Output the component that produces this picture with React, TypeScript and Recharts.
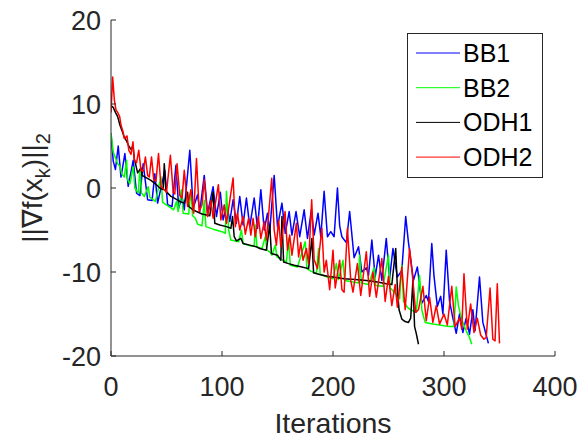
import React from 'react'
import { LineChart, Line, XAxis, YAxis, Legend } from 'recharts'

type Pt = [number, number]

// [iteration, ||grad f(x_k)||_2]
const bb1: Pt[] = [
  [0, 6.5], [2, 3.2], [4, 2.2], [6.5, 5.0], [9, 1.3], [12.5, 4.1], [15.5, 0.2], [20, 3.3], [23, -0.6], [26, -0.9],
  [29, 2.9], [33, -1.4], [37, -1.5], [39.5, 1.7], [42, -1.8], [48.5, 2.1], [51, -2.0], [55, -2.2], [58.5, 2.7], [61, -2.4],
  [64, -1.0], [66, -2.6], [71, 4.5], [74, -2.4], [78, -0.8], [80, -2.8], [84, 1.5], [87, -3.0], [92, 0.15], [95, -3.4],
  [98.5, -0.5], [101, -3.8], [104.5, -2.0], [107, -4.0], [110, -1.4], [113, -4.2], [116, -1.0], [119, -4.4], [122, -1.2], [125, -4.6],
  [129, -1.2], [132, -4.8], [135, -0.2], [138, -5.0], [141, -3.0], [143, -5.2], [147, 1.5], [150, -4.6], [154, -1.8], [157, -5.4],
  [160.5, -2.8], [163, -5.6], [166.7, -2.8], [170, -5.8], [174, -2.6], [177, -6.0], [180.5, -2.6], [183, -5.6], [186.5, -3.0], [189, -5.8],
  [192, -0.4], [195, -5.8], [198, -5.2], [201, -5.8], [204, 0.0], [206, -4.5], [208, -5.8], [212, -6.5], [215, -2.8], [219, -8.3],
  [223, -7.0], [226, -10.0], [230, -9.5], [232, -10.4], [235, -6.2], [238, -10.6], [241, -8.0], [244, -11.0], [248, -6.0], [251, -10.8],
  [254, -7.2], [258, -10.6], [262, -9.8], [265.5, -3.4], [268, -6.5], [270, -8.5], [272.5, -11.0], [276, -9.4], [280, -13.7], [284, -12.8],
  [286, -13.5], [289, -6.6], [291, -10.5], [294, -14.1], [297, -12.9], [299, -15.0], [302, -7.4], [305, -13.5], [308, -15.5], [311, -17.3],
  [314, -15.0], [317, -17.2], [320, -15.5], [323, -17.4], [326, -14.5], [328, -17.0], [332, -10.6], [335, -16.0], [337, -17.0], [340, -18.5],
]

const bb2: Pt[] = [
  [0, 6.5], [2, 4.3], [4, 3.6], [6, 2.9], [8, 2.6], [10, 1.6], [12, 1.3], [14, 3.3], [15, 1.0], [17, 0.5],
  [20, 2.5], [21.5, 0.0], [24.5, -0.6], [26, 2.1], [27.5, -0.6], [30, -1.0], [33.5, 0.15], [35, -1.1], [40, -1.6], [45, 1.3],
  [46.5, -1.7], [52, -2.2], [56.5, -2.6], [59, -1.6], [60.5, -2.8], [63.5, -0.2], [65, -3.0], [70, -3.1], [72, -0.2], [73.5, -3.3],
  [76, -3.6], [78, -4.3], [82, -4.5], [84, -1.5], [85.5, -4.6], [92, -4.9], [100, -5.2], [103, -5.4], [104, -0.4], [106, -5.0],
  [108, -6.2], [115, -6.4], [117.5, -5.0], [119, -6.6], [121, -6.7], [126, -6.9], [129, -6.9], [130, -4.4], [131.5, -7.0], [136, -7.2],
  [139, -5.8], [140.5, -7.4], [143, -7.6], [145, -8.0], [148, -6.8], [149.5, -8.2], [155, -8.6], [158, -8.8], [160, -6.0], [161.5, -9.2],
  [168, -9.4], [175, -6.4], [176.5, -9.6], [180, -9.9], [185, -10.2], [187, -7.2], [188.5, -10.3], [195, -10.6], [200, -10.8], [203, -9.0],
  [205, -10.9], [209, -8.6], [210.5, -11.0], [218, -11.2], [223, -11.3], [224, -8.0], [225.5, -11.3], [232, -11.5], [237, -9.5], [238.5, -11.6],
  [245, -11.7], [250, -8.0], [251.5, -11.9], [256, -12.5], [260, -13.2], [262, -9.2], [263.5, -13.5], [267, -14.2], [270, -14.5], [275, -14.8],
  [278, -10.4], [280, -14.5], [283, -16.0], [290, -16.2], [296, -16.3], [300, -16.4], [305, -16.5], [309, -16.5], [311, -11.8], [313, -14.0],
  [316, -15.7], [320, -17.0], [323, -17.8], [325, -18.6],
]

const odh1: Pt[] = [
  [0, 9.8], [2, 9.6], [4, 9.0], [6, 8.5], [8, 7.5], [10, 6.8], [12, 6.0], [14, 5.6], [16, 5.0], [18, 4.6], [19.8, 5.0],
  [21, 3.5], [24, 1.8], [27, 2.4], [28, 1.5], [32, 1.2], [36, 0.9], [40, 0.5], [44, 0.0], [47, -0.2], [48, 2.9],
  [49.5, -0.4], [54, -1.0], [57, -1.2], [62, -1.6], [66, -1.8], [69, -0.5], [70, -2.2], [74, -2.6], [77, -2.8], [82, -3.1],
  [89, -3.3], [92, -0.5], [93.5, -4.2], [98, -4.4], [104, -4.6], [108, -4.8], [109.5, -3.4], [111, -5.8], [113, -6.3], [117, -6.0],
  [119, -6.6], [125, -6.8], [131, -7.0], [134, -7.2], [140, -7.4], [143, -4.4], [144.5, -7.8], [150, -8.0], [153, -8.6], [154, -3.4],
  [155.5, -8.8], [160, -9.0], [165, -9.2], [172, -9.4], [178, -9.6], [181, -6.0], [182.5, -10.1], [188, -10.3], [195, -10.5], [200, -10.6],
  [210, -10.8], [220, -10.9], [230, -11.0], [240, -11.2], [248, -11.4], [253, -11.5], [256.5, -7.2], [258, -12.0], [259.5, -14.5], [262, -15.6],
  [265, -15.9], [268, -16.0], [270, -15.5], [272, -11.0], [273.5, -16.5], [275, -17.3], [277, -18.6],
]

const odh2: Pt[] = [
  [0, 9.0], [1.5, 13.2], [3, 10.5], [4.5, 9.3], [6, 9.0], [7.8, 8.5], [9, 7.5], [10.8, 6.7], [12, 5.9], [14.4, 6.2],
  [16, 4.5], [18, 4.0], [19.8, 5.5], [21, 3.3], [23, 3.0], [25, 4.5], [27, 2.1], [29, 2.0], [31, 3.7], [33, 1.5],
  [34.5, 1.3], [36.5, 3.7], [38.5, 1.0], [40.5, 0.8], [42.8, 4.1], [45, 0.2], [48, -0.2], [50, -0.5], [53.5, 3.9], [56, -0.5],
  [57.5, -0.7], [59.5, 2.9], [62, -0.9], [64, -1.2], [66, 2.1], [69, -2.2], [72, -0.2], [74.5, -3.0], [77, 3.5], [79.5, -2.8],
  [82, -2.0], [84, 1.0], [87, -3.4], [90, -1.5], [92, -3.6], [96.7, 0.4], [99, -3.8], [102, -2.0], [104, -4.2], [110, 1.2],
  [112, -4.6], [114, -3.0], [116, -5.0], [119, -3.4], [121, -5.5], [124, -3.6], [126, -5.6], [128, -3.6], [130, -5.8], [132.7, -3.4],
  [135, -6.0], [138, -4.0], [140, -6.2], [144.8, 1.15], [147, -5.0], [149, -6.8], [151, -3.8], [153, -7.0], [156.8, -2.8], [159, -7.4],
  [161, -5.6], [163, -8.0], [167, -4.2], [169, -8.2], [171, -6.5], [173, -8.6], [176, -7.2], [178, -9.0], [180.8, -1.4], [183, -8.5],
  [186, -9.6], [190, -4.8], [192, -10.0], [194, -8.6], [197, -12.1], [200, -7.4], [202, -11.9], [206, -8.6], [208, -12.1], [210, -12.4],
  [213, -4.8], [216, -11.0], [218, -12.4], [222, -9.0], [225, -12.8], [230, -7.6], [233, -12.9], [236, -10.0], [239, -13.0], [244, -8.4],
  [247, -13.5], [250, -10.5], [253, -14.0], [256, -11.5], [258, -14.2], [262, -9.4], [265, -14.5], [269, -7.2], [272, -11.0], [274.5, -14.8],
  [277, -14.5], [281, -11.7], [284, -15.8], [287, -13.0], [290, -16.0], [293, -14.0], [296, -16.2], [300, -15.0], [303, -16.3], [307, -11.7],
  [310, -16.5], [314, -15.5], [316, -16.8], [318, -10.2], [321, -16.8], [324, -13.8], [327, -17.2], [330, -15.5], [333, -17.5], [336, -18.0],
  [338, -17.8], [341.5, -11.9], [344, -18.0], [346, -18.2], [348, -11.4], [350, -18.5],
]

const seriesNames = ['BB1', 'BB2', 'ODH1', 'ODH2']
const seriesColors = ['#0000ff', '#00ff00', '#000000', '#ff0000']
const xTicks = [0, 100, 200, 300, 400]
const yTicks = [-20, -10, 0, 10, 20]

const AXIS = '#262626'
const FONT = '"Liberation Sans", Arial, Helvetica, sans-serif'
const PLOT_LEFT = 111
const PLOT_BOTTOM = 356

const toRows = (pts: Pt[]) => pts.map(([it, v]) => ({ it, v }))

function XTick(props: any) {
  const { x, payload } = props
  return (
    <g>
      <line x1={x} x2={x} y1={PLOT_BOTTOM} y2={PLOT_BOTTOM - 5} stroke={AXIS} />
      <text x={x} y={396} textAnchor="middle" fontSize={27} fill={AXIS} fontFamily={FONT}>
        {payload.value}
      </text>
    </g>
  )
}

function YTick(props: any) {
  const { y, payload } = props
  return (
    <g>
      <line x1={PLOT_LEFT} x2={PLOT_LEFT + 5} y1={y} y2={y} stroke={AXIS} />
      <text x={101} y={y} dy="0.36em" textAnchor="end" fontSize={27} fill={AXIS} fontFamily={FONT}>
        {payload.value}
      </text>
    </g>
  )
}

function XLabel() {
  return (
    <text x={333} y={433} textAnchor="middle" fontSize={28.5} fill={AXIS} fontFamily={FONT}>
      Iterations
    </text>
  )
}

function YLabel() {
  return (
    <text
      x={42}
      y={188}
      transform="rotate(-90 42 188)"
      textAnchor="middle"
      fontSize={28}
      fill={AXIS}
      fontFamily={FONT}
    >
      ||∇f(x
      <tspan fontSize={20} dy={8}>k</tspan>
      <tspan dy={-8}>)||</tspan>
      <tspan fontSize={20} dy={8}>2</tspan>
    </text>
  )
}

function LegendBox(props: any) {
  const { payload = [] } = props
  return (
    <svg width={136} height={145} style={{ display: 'block' }}>
      <rect x={0.5} y={0.5} width={135} height={144} fill="#ffffff" stroke={AXIS} />
      {payload.map((p: any, i: number) => {
        const cy = 20 + i * 34.7
        return (
          <g key={p.value}>
            <line x1={9} x2={53} y1={cy} y2={cy} stroke={p.color} strokeWidth={1} />
            <text x={56} y={cy} dy="0.36em" fontSize={25} fill="#000" fontFamily={FONT}>
              {p.value}
            </text>
          </g>
        )
      })}
    </svg>
  )
}

const allSeries = [bb1, bb2, odh1, odh2]

export default function App(): React.ReactElement {
  return (
    <div style={{ position: 'absolute', left: 0, top: 0, background: '#fff' }}>
      <LineChart width={582} height={443} margin={{ top: 20, right: 27, bottom: 37, left: 51 }}>
        <XAxis
          type="number"
          dataKey="it"
          domain={[0, 400]}
          ticks={xTicks}
          allowDataOverflow
          tickLine={false}
          axisLine={{ stroke: AXIS }}
          tick={<XTick />}
          height={50}
          label={<XLabel />}
        />
        <YAxis
          type="number"
          dataKey="v"
          domain={[-20, 20]}
          ticks={yTicks}
          allowDataOverflow
          tickLine={false}
          axisLine={{ stroke: AXIS }}
          tick={<YTick />}
          width={60}
          label={<YLabel />}
        />
        {allSeries.map((pts, i) => (
          <Line
            key={seriesNames[i]}
            name={seriesNames[i]}
            data={toRows(pts)}
            dataKey="v"
            type="linear"
            stroke={seriesColors[i]}
            strokeWidth={1.5}
            strokeLinejoin="round"
            dot={false}
            activeDot={false}
            isAnimationActive={false}
          />
        ))}
        <Legend
          layout="vertical"
          align="center"
          verticalAlign="middle"
          content={<LegendBox />}
          wrapperStyle={{ left: 407, top: 33, width: 136, height: 145 }}
        />
      </LineChart>
    </div>
  )
}
